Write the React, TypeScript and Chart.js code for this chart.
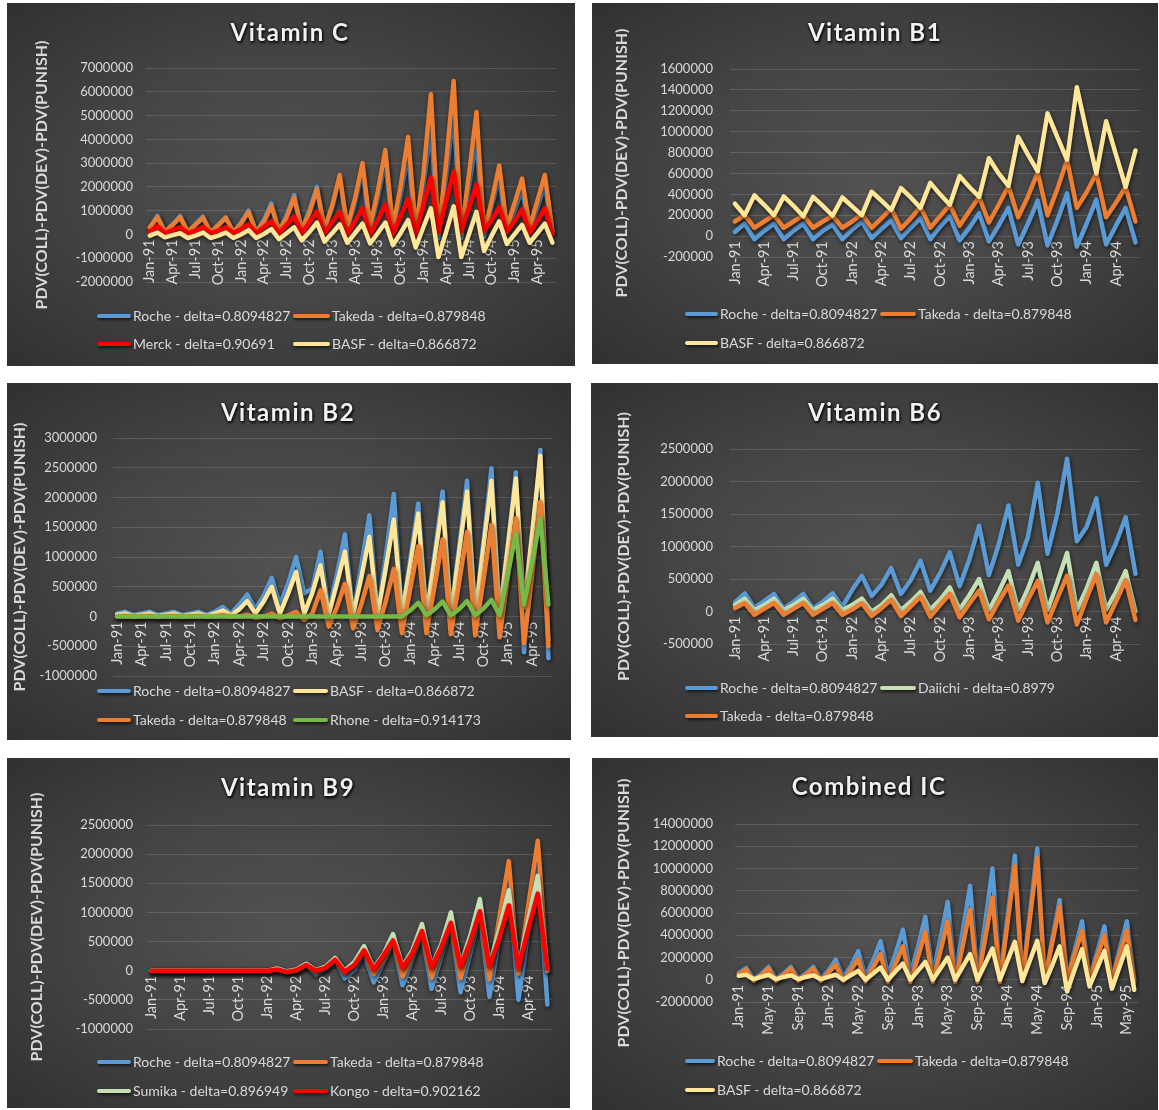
import React, { useEffect, useRef } from 'react';
import { Chart, registerables } from 'chart.js';

Chart.register(...registerables);

// ---------- categories ----------
const MONTHS = ['Jan', 'Feb', 'Mar', 'Apr', 'May', 'Jun', 'Jul', 'Aug', 'Sep', 'Oct', 'Nov', 'Dec'];
const YEARS = ['91', '92', '93', '94', '95'];
const makeLabels = (n: number) =>
  Array.from({ length: n }, (_, i) => `${MONTHS[i % 12]}-${YEARS[Math.floor(i / 12)]}`);
const LABELS_JAN91_JUN95 = makeLabels(54);
const LABELS_JAN91_JUN94 = makeLabels(42);

// ---------- series names ----------
const N_ROCHE = 'Roche - delta=0.8094827';
const N_TAKEDA = 'Takeda - delta=0.879848';
const N_MERCK = 'Merck - delta=0.90691';
const N_BASF = 'BASF - delta=0.866872';
const N_RHONE = 'Rhone - delta=0.914173';
const N_DAIICHI = 'Daiichi - delta=0.8979';
const N_SUMIKA = 'Sumika - delta=0.896949';
const N_KONGO = 'Kongo - delta=0.902162';

// ---------- Vitamin C (Jan-91 .. Jun-95) ----------
const vcRoche = [280000,
  780000, 100000, 420000, 780000, 100000, 420000, 750000, 80000, 400000, 720000, 80000, 500000,
  1000000, 120000, 600000, 1300000, 150000, 800000, 1650000, 200000, 1000000, 2000000, 250000, 1100000,
  2350000, 200000, 1300000, 2700000, 150000, 1500000, 3100000, 100000, 1600000, 3400000, 0, 2000000,
  4500000, -150000, 2400000, 5100000, -150000, 2000000, 4000000, -100000, 1200000, 2400000, 100000, 1000000,
  1900000, 150000, 1100000, 2100000, 50000];
const vcTakeda = [300000,
  720000, 120000, 400000, 720000, 120000, 400000, 700000, 100000, 380000, 700000, 100000, 450000,
  950000, 120000, 500000, 1200000, 150000, 700000, 1550000, 200000, 900000, 1900000, 250000, 1200000,
  2500000, 300000, 1500000, 3000000, 350000, 1800000, 3550000, 300000, 2000000, 4100000, 200000, 2500000,
  5900000, 50000, 3000000, 6450000, 50000, 2500000, 5150000, 100000, 1400000, 2900000, 300000, 1300000,
  2350000, 300000, 1400000, 2500000, 150000];
const vcMerck = [120000,
  350000, 50000, 180000, 300000, 50000, 150000, 320000, 50000, 150000, 300000, 50000, 220000,
  420000, 50000, 300000, 550000, 50000, 400000, 750000, 50000, 500000, 950000, 50000, 500000,
  950000, 0, 550000, 1100000, 0, 600000, 1250000, 0, 750000, 1500000, 0, 1200000,
  2400000, 100000, 1400000, 2650000, 150000, 1100000, 2100000, 150000, 600000, 1150000, 100000, 550000,
  1050000, 50000, 550000, 1100000, 0];
const vcBasf = [-50000,
  80000, -120000, -30000, 50000, -150000, -50000, 80000, -150000, -50000, 80000, -150000, 0,
  180000, -150000, 20000, 220000, -200000, 50000, 300000, -250000, 100000, 500000, -300000, 50000,
  420000, -350000, 50000, 450000, -380000, 50000, 500000, -450000, 50000, 600000, -550000, 300000,
  1100000, -950000, 100000, 1180000, -950000, 0, 950000, -700000, -50000, 550000, -400000, 0,
  400000, -350000, 50000, 450000, -350000];

// ---------- Vitamin B1 (Jan-91 .. Jun-94) ----------
const b1Roche = [40000,
  120000, -30000, 50000, 120000, -30000, 50000, 120000, -30000, 50000, 110000, -30000, 60000,
  140000, -20000, 70000, 150000, -20000, 80000, 170000, -30000, 90000, 190000, -40000, 80000,
  220000, -50000, 100000, 270000, -80000, 120000, 340000, -90000, 150000, 410000, -100000, 120000,
  350000, -80000, 100000, 270000, -60000];
const b1Takeda = [140000,
  200000, 80000, 140000, 200000, 80000, 140000, 200000, 80000, 140000, 195000, 80000, 140000,
  210000, 80000, 170000, 265000, 70000, 170000, 280000, 80000, 190000, 300000, 100000, 240000,
  375000, 130000, 300000, 480000, 180000, 380000, 610000, 200000, 450000, 730000, 270000, 420000,
  600000, 180000, 320000, 470000, 140000];
const b1Basf = [310000,
  200000, 390000, 300000, 200000, 380000, 290000, 190000, 375000, 290000, 195000, 370000, 285000,
  200000, 425000, 340000, 250000, 460000, 370000, 270000, 510000, 400000, 300000, 575000, 470000,
  375000, 745000, 600000, 480000, 950000, 780000, 620000, 1175000, 950000, 730000, 1425000, 1000000,
  600000, 1100000, 780000, 470000, 820000];

// ---------- Vitamin B2 (Jan-91 .. Jun-95) ----------
const b2Roche = [50000,
  80000, 30000, 50000, 80000, 30000, 50000, 80000, 30000, 50000, 80000, 30000, 80000,
  160000, 50000, 200000, 370000, 120000, 350000, 650000, 200000, 550000, 1000000, 390000, 470000,
  1090000, 100000, 700000, 1380000, 50000, 850000, 1700000, 50000, 1000000, 2060000, 50000, 950000,
  1900000, 50000, 1050000, 2100000, 50000, 1150000, 2280000, 50000, 1250000, 2490000, 50000, 1200000,
  2420000, -600000, 1100000, 2800000, -700000];
const b2Basf = [30000,
  50000, 10000, 30000, 50000, 10000, 30000, 50000, 10000, 30000, 50000, 10000, 50000,
  100000, 20000, 120000, 260000, 50000, 250000, 500000, 50000, 380000, 750000, 50000, 400000,
  860000, 30000, 550000, 1090000, 30000, 650000, 1340000, 20000, 800000, 1630000, 20000, 850000,
  1730000, 20000, 950000, 1920000, 20000, 1050000, 2100000, 20000, 1150000, 2280000, 20000, 1150000,
  2320000, 150000, 1400000, 2700000, -400000];
const b2Takeda = [0,
  10000, -10000, 0, 10000, -10000, 0, 10000, -10000, 0, 10000, -10000, 0,
  20000, -10000, 0, 30000, -20000, 0, 50000, -30000, 20000, 80000, -60000, 50000,
  440000, -170000, 150000, 550000, -200000, 200000, 680000, -230000, 250000, 800000, -280000, 450000,
  1180000, -280000, 500000, 1300000, -300000, 550000, 1420000, -320000, 600000, 1540000, -350000, 650000,
  1650000, -450000, 700000, 1930000, -500000];
const b2Rhone = [0,
  0, 0, 0, 0, 0, 0, 0, 0, 0, 0, 0, 0,
  0, 0, 0, 0, 0, 0, 0, 0, 0, 0, 0, 0,
  0, 0, 0, 0, 0, 0, 0, 0, 0, 0, 0, 100000,
  230000, 20000, 120000, 250000, 20000, 120000, 260000, 20000, 130000, 280000, 20000, 700000,
  1400000, 200000, 900000, 1650000, 200000];

// ---------- Vitamin B6 (Jan-91 .. Jun-94) ----------
const b6Roche = [140000,
  280000, 60000, 160000, 270000, 50000, 150000, 270000, 50000, 150000, 280000, 70000, 330000,
  550000, 240000, 410000, 670000, 270000, 480000, 780000, 320000, 590000, 910000, 390000, 800000,
  1320000, 560000, 1030000, 1630000, 720000, 1150000, 1980000, 890000, 1500000, 2350000, 1080000, 1300000,
  1740000, 720000, 1050000, 1450000, 580000];
const b6Daiichi = [100000,
  200000, 20000, 100000, 200000, 20000, 100000, 200000, 20000, 100000, 200000, 20000, 100000,
  200000, 0, 100000, 250000, 20000, 150000, 300000, 30000, 180000, 370000, 30000, 250000,
  500000, 20000, 300000, 620000, 20000, 350000, 750000, 20000, 450000, 900000, 20000, 350000,
  750000, 30000, 300000, 620000, 0];
const b6Takeda = [50000,
  130000, -50000, 40000, 130000, -50000, 40000, 130000, -50000, 40000, 130000, -50000, 30000,
  130000, -70000, 50000, 180000, -70000, 80000, 230000, -80000, 100000, 270000, -90000, 120000,
  320000, -120000, 150000, 400000, -140000, 180000, 470000, -170000, 200000, 550000, -200000, 200000,
  570000, -170000, 150000, 480000, -130000];

// ---------- Vitamin B9 (Jan-91 .. Jun-94) ----------
const b9Roche = [0,
  0, 0, 0, 0, 0, 0, 0, 0, 0, 0, 0, 0,
  20000, -20000, 0, 100000, -70000, 30000, 170000, -130000, 20000, 300000, -200000, 140000,
  480000, -250000, 190000, 630000, -310000, 240000, 780000, -370000, 290000, 950000, -450000, 550000,
  1550000, -500000, 650000, 1800000, -580000];
const b9Takeda = [0,
  0, 0, 0, 0, 0, 0, 0, 0, 0, 0, 0, 0,
  20000, -30000, 0, 100000, -30000, 50000, 180000, -40000, 100000, 330000, -60000, 180000,
  500000, -100000, 250000, 650000, -120000, 350000, 800000, -130000, 450000, 1000000, -150000, 900000,
  1880000, -50000, 1100000, 2230000, 0];
const b9Sumika = [0,
  0, 0, 0, 0, 0, 0, 0, 0, 0, 0, 0, 0,
  40000, -10000, 20000, 120000, 10000, 70000, 220000, 0, 150000, 420000, 50000, 280000,
  630000, 80000, 350000, 800000, 80000, 450000, 1000000, 100000, 600000, 1230000, 100000, 700000,
  1380000, 50000, 850000, 1630000, 0];
const b9Kongo = [0,
  0, 0, 0, 0, 0, 0, 0, 0, 0, 0, 0, 0,
  20000, -20000, 10000, 100000, 0, 50000, 190000, -20000, 100000, 350000, 20000, 260000,
  520000, 50000, 300000, 680000, 50000, 400000, 820000, 70000, 500000, 1020000, 70000, 550000,
  1120000, 50000, 700000, 1320000, 20000];

// ---------- Combined IC (Jan-91 .. Jun-95) ----------
const ciRoche = [600000,
  1050000, 100000, 500000, 1150000, 100000, 550000, 1150000, 100000, 550000, 1150000, 100000, 800000,
  1800000, 200000, 1200000, 2550000, 300000, 1700000, 3450000, 400000, 2300000, 4500000, 500000, 2900000,
  5650000, 500000, 3600000, 7000000, 400000, 4300000, 8450000, 300000, 5000000, 10000000, 200000, 5600000,
  11150000, 100000, 5900000, 11800000, 100000, 3600000, 7150000, 300000, 2600000, 5250000, 200000, 2400000,
  4800000, 100000, 2600000, 5250000, 100000];
const ciTakeda = [500000,
  900000, -100000, 400000, 1000000, -100000, 450000, 1000000, -100000, 450000, 1000000, -100000, 600000,
  1350000, -100000, 850000, 1850000, -150000, 1100000, 2300000, -200000, 1400000, 3000000, -200000, 2000000,
  4300000, -200000, 2500000, 5250000, -200000, 3000000, 6300000, -200000, 3600000, 7400000, -200000, 5000000,
  10200000, -150000, 5400000, 11000000, -100000, 3300000, 6600000, 0, 2200000, 4400000, 0, 2000000,
  4000000, 0, 2200000, 4400000, -200000];
const ciBasf = [350000,
  450000, 50000, 250000, 450000, 50000, 250000, 400000, 50000, 250000, 400000, 50000, 250000,
  450000, 0, 400000, 800000, 0, 550000, 1100000, 0, 750000, 1450000, 0, 800000,
  1600000, 0, 1000000, 2000000, 0, 1150000, 2300000, 0, 1400000, 2800000, 0, 1700000,
  3400000, -100000, 1700000, 3500000, -300000, 1300000, 3000000, -1050000, 900000, 2750000, -600000, 1000000,
  2600000, -800000, 1100000, 3000000, -900000];

// ---------- styling ----------
const C_ROCHE = '#5B9BD5';
const C_TAKEDA = '#ED7D31';
const C_BASF = '#FFE699';
const C_RED = '#FF0000';
const C_RHONE = '#76B947';
const C_LIGHTGREEN = '#C5E0B4';
const TXT = '#D9D9D9';
const GRID = 'rgba(255,255,255,0.14)';
const FONT = 'Lato, "Open Sans", sans-serif';
const Y_TITLE = 'PDV(COLL)-PDV(DEV)-PDV(PUNISH)';

type Series = { name: string; data: number[]; color: string };
type PanelCfg = {
  title: string;
  left: number; top: number; w: number; h: number;
  titleX: number; titleY: number;
  yMin: number; yMax: number; yStep: number;
  plotLeft: number; plotTop: number; padRight: number; padBottom: number;
  tickPad: number; yTitleX: number;
  labels: string[]; step: number;
  series: Series[];
  legendRows: number[];
  legendCols: { sx: number; sw: number }[];
};

const PANELS: PanelCfg[] = [
  {
    title: 'Vitamin C', left: 7, top: 3, w: 568, h: 363, titleX: 283, titleY: 29,
    yMin: -2000000, yMax: 7000000, yStep: 1000000,
    plotLeft: 139, plotTop: 65, padRight: 16, padBottom: 84, tickPad: 13, yTitleX: 35,
    labels: LABELS_JAN91_JUN95, step: 3,
    series: [
      { name: N_ROCHE, data: vcRoche, color: C_ROCHE },
      { name: N_TAKEDA, data: vcTakeda, color: C_TAKEDA },
      { name: N_MERCK, data: vcMerck, color: C_RED },
      { name: N_BASF, data: vcBasf, color: C_BASF },
    ],
    legendRows: [313, 341], legendCols: [{ sx: 90, sw: 34 }, { sx: 286, sw: 37 }],
  },
  {
    title: 'Vitamin B1', left: 592, top: 3, w: 566, h: 361, titleX: 283, titleY: 29,
    yMin: -200000, yMax: 1600000, yStep: 200000,
    plotLeft: 138, plotTop: 66, padRight: 12, padBottom: 107, tickPad: 17, yTitleX: 30,
    labels: LABELS_JAN91_JUN94, step: 3,
    series: [
      { name: N_ROCHE, data: b1Roche, color: C_ROCHE },
      { name: N_TAKEDA, data: b1Takeda, color: C_TAKEDA },
      { name: N_BASF, data: b1Basf, color: C_BASF },
    ],
    legendRows: [311, 340], legendCols: [{ sx: 93, sw: 33 }, { sx: 288, sw: 36 }],
  },
  {
    title: 'Vitamin B2', left: 7, top: 383, w: 564, h: 357, titleX: 281, titleY: 29,
    yMin: -1000000, yMax: 3000000, yStep: 500000,
    plotLeft: 106, plotTop: 55, padRight: 17, padBottom: 64, tickPad: 16, yTitleX: 13,
    labels: LABELS_JAN91_JUN95, step: 3,
    series: [
      { name: N_ROCHE, data: b2Roche, color: C_ROCHE },
      { name: N_BASF, data: b2Basf, color: C_BASF },
      { name: N_TAKEDA, data: b2Takeda, color: C_TAKEDA },
      { name: N_RHONE, data: b2Rhone, color: C_RHONE },
    ],
    legendRows: [308, 337], legendCols: [{ sx: 90, sw: 34 }, { sx: 286, sw: 35 }],
  },
  {
    title: 'Vitamin B6', left: 591, top: 383, w: 567, h: 354, titleX: 284, titleY: 29,
    yMin: -500000, yMax: 2500000, yStep: 500000,
    plotLeft: 139, plotTop: 66, padRight: 12, padBottom: 93, tickPad: 17, yTitleX: 33,
    labels: LABELS_JAN91_JUN94, step: 3,
    series: [
      { name: N_ROCHE, data: b6Roche, color: C_ROCHE },
      { name: N_DAIICHI, data: b6Daiichi, color: C_LIGHTGREEN },
      { name: N_TAKEDA, data: b6Takeda, color: C_TAKEDA },
    ],
    legendRows: [305, 333], legendCols: [{ sx: 94, sw: 33 }, { sx: 289, sw: 36 }],
  },
  {
    title: 'Vitamin B9', left: 7, top: 758, w: 563, h: 350, titleX: 281, titleY: 29,
    yMin: -1000000, yMax: 2500000, yStep: 500000,
    plotLeft: 140, plotTop: 67, padRight: 17, padBottom: 79, tickPad: 14, yTitleX: 30,
    labels: LABELS_JAN91_JUN94, step: 3,
    series: [
      { name: N_ROCHE, data: b9Roche, color: C_ROCHE },
      { name: N_TAKEDA, data: b9Takeda, color: C_TAKEDA },
      { name: N_SUMIKA, data: b9Sumika, color: C_LIGHTGREEN },
      { name: N_KONGO, data: b9Kongo, color: C_RED },
    ],
    legendRows: [304, 333], legendCols: [{ sx: 90, sw: 34 }, { sx: 286, sw: 35 }],
  },
  {
    title: 'Combined IC', left: 592, top: 758, w: 566, h: 352, titleX: 277, titleY: 28,
    yMin: -2000000, yMax: 14000000, yStep: 2000000,
    plotLeft: 143, plotTop: 66, padRight: 20, padBottom: 108, tickPad: 22, yTitleX: 32,
    labels: LABELS_JAN91_JUN95, step: 4,
    series: [
      { name: N_ROCHE, data: ciRoche, color: C_ROCHE },
      { name: N_TAKEDA, data: ciTakeda, color: C_TAKEDA },
      { name: N_BASF, data: ciBasf, color: C_BASF },
    ],
    legendRows: [303, 332], legendCols: [{ sx: 93, sw: 30 }, { sx: 285, sw: 36 }],
  },
];

const lineShadow = {
  id: 'lineShadow',
  beforeDatasetDraw(chart: any) {
    const c = chart.ctx;
    c.save();
    c.shadowColor = 'rgba(0,0,0,0.6)';
    c.shadowBlur = 4;
    c.shadowOffsetX = 1;
    c.shadowOffsetY = 2;
  },
  afterDatasetDraw(chart: any) {
    chart.ctx.restore();
  },
};

const Y_TITLE_SIZE = 16;
const PAD_LEFT = 2;

function ChartPanel({ p }: { p: PanelCfg }) {
  const ref = useRef<HTMLCanvasElement>(null);
  useEffect(() => {
    const n = p.series.length;
    const chart = new Chart(ref.current as HTMLCanvasElement, {
      type: 'line',
      data: {
        labels: p.labels,
        datasets: p.series.map((s, i) => ({
          label: s.name,
          data: s.data,
          borderColor: s.color,
          backgroundColor: s.color,
          borderWidth: 4.5,
          pointRadius: 0,
          pointHoverRadius: 0,
          tension: 0,
          fill: false,
          borderJoinStyle: 'round',
          borderCapStyle: 'round',
          order: n - i,
        })),
      },
      options: {
        responsive: false,
        animation: false,
        devicePixelRatio: 1,
        events: [],
        layout: {
          padding: { left: PAD_LEFT, right: p.padRight, top: p.plotTop, bottom: p.padBottom },
        },
        plugins: {
          legend: { display: false },
          title: { display: false },
          tooltip: { enabled: false },
        },
        scales: {
          x: {
            type: 'category',
            offset: true,
            position: { y: 0 },
            grid: { display: false, drawTicks: false },
            border: { display: false },
            ticks: {
              autoSkip: false,
              minRotation: 90,
              maxRotation: 90,
              color: TXT,
              padding: 5,
              font: { family: FONT, size: 14.5 },
              callback: function (this: any, v: any, idx: number) {
                return idx % p.step === 0 ? this.getLabelForValue(v) : '';
              },
            },
          },
          y: {
            position: 'left',
            min: p.yMin,
            max: p.yMax,
            grid: { color: GRID, lineWidth: 1, drawTicks: false },
            border: { display: false },
            ticks: {
              stepSize: p.yStep,
              color: TXT,
              padding: p.tickPad,
              font: { family: FONT, size: 13 },
              callback: (v: any) => String(v),
            },
            title: {
              display: true,
              text: Y_TITLE,
              color: TXT,
              font: { family: FONT, size: Y_TITLE_SIZE, weight: 'bold' },
              padding: { top: Math.max(0, p.yTitleX - PAD_LEFT - Y_TITLE_SIZE * 0.6), bottom: 0 },
            },
            afterFit: (s: any) => {
              s.width = p.plotLeft - PAD_LEFT;
            },
          },
        },
      } as any,
      plugins: [lineShadow],
    });
    return () => chart.destroy();
  }, []);

  return (
    <div
      style={{
        position: 'absolute',
        left: p.left,
        top: p.top,
        width: p.w,
        height: p.h,
        overflow: 'hidden',
        background:
          'radial-gradient(ellipse 75% 75% at 50% 50%, #525252 0%, #454545 45%, #2e2e2e 100%)',
      }}
    >
      <canvas
        ref={ref}
        width={p.w}
        height={p.h}
        style={{ position: 'absolute', left: 0, top: 0, width: p.w, height: p.h }}
      />
      <div
        style={{
          position: 'absolute',
          left: p.titleX - 200,
          width: 400,
          top: p.titleY - 16,
          height: 32,
          lineHeight: '32px',
          textAlign: 'center',
          fontFamily: FONT,
          fontWeight: 'bold',
          fontSize: 24,
          letterSpacing: '1.5px',
          color: '#F2F2F2',
          textShadow: '0 0 3px rgba(0,0,0,0.9), 1px 2px 3px rgba(0,0,0,0.9)',
          whiteSpace: 'nowrap',
        }}
      >
        {p.title}
      </div>
      {p.series.map((s, k) => {
        const row = p.legendRows[Math.floor(k / 2)];
        const col = p.legendCols[k % 2];
        return (
          <React.Fragment key={s.name}>
            <div
              style={{
                position: 'absolute',
                left: col.sx,
                top: row - 2,
                width: col.sw,
                height: 4,
                background: s.color,
                borderRadius: 2,
                boxShadow: '1px 2px 3px rgba(0,0,0,0.6)',
              }}
            />
            <div
              style={{
                position: 'absolute',
                left: col.sx + col.sw + 2,
                top: row - 10,
                height: 20,
                lineHeight: '20px',
                fontFamily: FONT,
                fontSize: 14,
                color: TXT,
                whiteSpace: 'nowrap',
              }}
            >
              {s.name}
            </div>
          </React.Fragment>
        );
      })}
    </div>
  );
}

export default function App() {
  return (
    <div
      style={{
        position: 'absolute',
        left: 0,
        top: 0,
        width: 1159,
        height: 1110,
        background: '#FFFFFF',
        overflow: 'hidden',
      }}
    >
      {PANELS.map((p) => (
        <ChartPanel key={p.title} p={p} />
      ))}
    </div>
  );
}
